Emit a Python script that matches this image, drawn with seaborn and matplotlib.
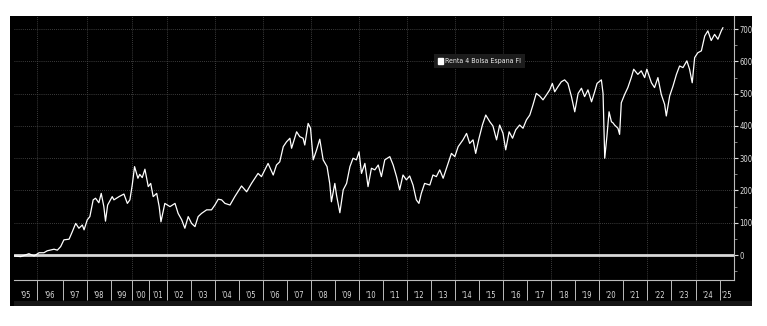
import numpy as np
import pandas as pd
import matplotlib
matplotlib.use("Agg")
import matplotlib.pyplot as plt
import seaborn as sns
from matplotlib.patches import Rectangle, Patch
from matplotlib.ticker import FixedLocator, FixedFormatter, NullFormatter, MultipleLocator

# ---------------- data ----------------
series_name = "Renta 4 Bolsa Espana FI"

dates = [
    1995.00, 1995.29, 1995.64, 1995.86, 1996.07, 1996.26, 1996.39, 1996.66, 1996.79, 1996.92,
    1997.05, 1997.26, 1997.39, 1997.53, 1997.66, 1997.80, 1997.87, 1998.00, 1998.11, 1998.25,
    1998.35, 1998.49, 1998.59, 1998.70, 1998.77, 1998.86, 1999.06, 1999.14, 1999.38, 1999.61,
    1999.77, 1999.89, 2000.00, 2000.14, 2000.34, 2000.45, 2000.60, 2000.76, 2000.96, 2001.10,
    2001.24, 2001.44, 2001.58, 2001.68, 2001.90, 2002.14, 2002.35, 2002.48, 2002.63, 2002.76,
    2002.90, 2003.04, 2003.18, 2003.31, 2003.45, 2003.66, 2003.86, 2004.00, 2004.14, 2004.28,
    2004.42, 2004.63, 2004.83, 2005.11, 2005.32, 2005.52, 2005.79, 2005.93, 2006.21, 2006.43,
    2006.57, 2006.71, 2006.86, 2007.00, 2007.14, 2007.21, 2007.42, 2007.55, 2007.69, 2007.76,
    2007.90, 2008.00, 2008.11, 2008.25, 2008.38, 2008.52, 2008.68, 2008.79, 2008.86, 2009.00,
    2009.07, 2009.21, 2009.35, 2009.49, 2009.63, 2009.76, 2009.90, 2010.01, 2010.11, 2010.25,
    2010.38, 2010.52, 2010.66, 2010.80, 2010.93, 2011.07, 2011.28, 2011.42, 2011.56, 2011.69,
    2011.83, 2011.97, 2012.11, 2012.25, 2012.39, 2012.50, 2012.60, 2012.74, 2012.96, 2013.09,
    2013.23, 2013.37, 2013.51, 2013.67, 2013.85, 2013.99, 2014.13, 2014.33, 2014.48, 2014.61,
    2014.75, 2014.86, 2015.00, 2015.14, 2015.28, 2015.45, 2015.58, 2015.73, 2015.86, 2016.00,
    2016.11, 2016.25, 2016.39, 2016.52, 2016.68, 2016.82, 2016.96, 2017.10, 2017.23, 2017.37,
    2017.51, 2017.65, 2017.79, 2017.93, 2018.04, 2018.14, 2018.28, 2018.42, 2018.56, 2018.70,
    2018.85, 2018.99, 2019.13, 2019.27, 2019.40, 2019.54, 2019.69, 2019.82, 2019.92, 2020.10,
    2020.17, 2020.24, 2020.33, 2020.42, 2020.52, 2020.58, 2020.65, 2020.79, 2020.86, 2020.93,
    2021.07, 2021.20, 2021.34, 2021.44, 2021.61, 2021.75, 2021.89, 2021.98, 2022.17, 2022.30,
    2022.44, 2022.58, 2022.72, 2022.79, 2022.93, 2023.07, 2023.21, 2023.34, 2023.48, 2023.64,
    2023.75, 2023.86, 2023.96, 2024.09, 2024.24, 2024.38, 2024.51, 2024.65, 2024.79, 2024.93,
    2025.07, 2025.14,
]
values = [
    -3, -5, 4, -3, 7, 7, 13, 18, 15, 26,
    47, 49, 72, 98, 83, 93, 78, 109, 119, 171,
    176, 162, 191, 150, 105, 155, 181, 171, 181, 189,
    160, 171, 217, 274, 238, 250, 240, 266, 212, 222,
    181, 191, 150, 103, 160, 150, 160, 129, 109, 83,
    119, 98, 88, 119, 129, 140, 140, 155, 173, 171,
    160, 155, 181, 214, 196, 222, 253, 243, 284, 248,
    279, 289, 336, 351, 362, 331, 382, 367, 362, 341,
    408, 393, 295, 326, 359, 295, 274, 222, 165, 222,
    186, 131, 202, 222, 274, 300, 295, 320, 253, 284,
    212, 269, 264, 279, 243, 295, 305, 279, 243, 202,
    248, 233, 245, 217, 171, 160, 191, 222, 217, 248,
    243, 264, 238, 274, 315, 305, 336, 357, 377, 346,
    357, 315, 362, 403, 434, 413, 400, 357, 403, 377,
    326, 382, 362, 388, 403, 393, 419, 434, 465, 501,
    493, 481, 496, 512, 532, 506, 522, 537, 543, 532,
    491, 444, 501, 517, 491, 512, 475, 506, 532, 543,
    501, 300, 367, 444, 413, 410, 403, 393, 374, 472,
    498, 519, 550, 576, 560, 571, 550, 576, 534, 519,
    550, 498, 467, 431, 493, 524, 560, 586, 581, 602,
    576, 534, 612, 627, 633, 679, 695, 665, 684, 669,
    695, 705,
]

year_ticks = list(range(1995, 2026))
year_labels = ["'" + str(y)[-2:] for y in year_ticks]
y_ticks = [0, 100, 200, 300, 400, 500, 600, 700]

# ---------------- Bloomberg-like time axis (uneven year widths) ----------------
year_widths = [23.3, 25.4, 24.6, 23.7, 21.3, 16.7, 17.7, 24, 24.3, 24, 24.3, 23.4, 24, 24.3, 24,
               24.3, 24, 23.7, 24.3, 24, 24, 24.4, 24, 23.6, 24, 24, 24.4, 24, 24.3, 24, 24]
edge_years = np.arange(1995, 1995 + len(year_widths) + 1, dtype=float)
edge_pos = np.concatenate([[0.0], np.cumsum(year_widths)])


def fwd(x):
    return np.interp(x, edge_years, edge_pos, left=-1e3, right=1e4)


def inv(p):
    return np.interp(p, edge_pos, edge_years)


df = pd.DataFrame({"date": dates, "value": values})

sns.set_theme(style="dark")
plt.rcParams["font.family"] = ["DejaVu Sans"]

W, H = 767, 326
fig = plt.figure(figsize=(W / 100, H / 100), dpi=100, facecolor="white")
# black panel behind the axes
fig.patches.append(Rectangle((10 / W, 1 - 306 / H), 742 / W, 290 / H, transform=fig.transFigure,
                             facecolor="black", edgecolor="none", zorder=-3))
fig.patches.append(Rectangle((14 / W, 1 - 306 / H), 738 / W, 5 / H, transform=fig.transFigure,
                             facecolor="#161616", edgecolor="none", zorder=-2))

ax = fig.add_axes([14 / W, 1 - 280 / H, 720 / W, 264 / H])
ax.set_facecolor("black")
ax.set_xscale("function", functions=(fwd, inv))
ax.set_xlim(1995, 2025.6)
ax.set_ylim(-77.5, 741)

# grid
for yv in y_ticks[1:]:
    ax.axhline(yv, color="#505050", lw=0.6, ls=(0, (1, 1.5)), zorder=1)
for yr in range(1996, 2025, 2):
    ax.axvline(yr, color="#505050", lw=0.6, ls=(0, (1, 1.5)), zorder=1)

ax.axhline(0, color="#d8d8d8", lw=2.0, zorder=2)

sns.lineplot(data=df, x="date", y="value", ax=ax, color="white", lw=0.9,
             estimator=None, sort=False, legend=False, zorder=3)

# y axis on right
ax.yaxis.tick_right()
ax.yaxis.set_label_position("right")
ax.set_yticks(y_ticks)
ax.yaxis.set_minor_locator(MultipleLocator(50))
ax.tick_params(axis="y", which="major", length=3, width=0.8, color="#dddddd",
               labelcolor="#dddddd", labelsize=5.5, pad=1, right=True, left=False)
ax.tick_params(axis="y", which="minor", length=2, width=0.6, color="#999999", right=True, left=False)
for lab in ax.get_yticklabels():
    lab.set_fontstretch("condensed")

# x axis: separators at year edges, labels at mid-year
ax.xaxis.set_major_locator(FixedLocator(list(range(1996, 2026))))
ax.xaxis.set_major_formatter(NullFormatter())
mids = [y + 0.5 for y in year_ticks[:-1]] + [2025.3]
ax.xaxis.set_minor_locator(FixedLocator(mids))
ax.xaxis.set_minor_formatter(FixedFormatter(year_labels))
ax.tick_params(axis="x", which="major", direction="out", length=14.4, width=0.7, color="#bbbbbb",
               bottom=True)
ax.tick_params(axis="x", which="minor", length=0, labelsize=5.5, labelcolor="#dddddd", pad=8,
               bottom=True)
for lab in ax.xaxis.get_minorticklabels():
    lab.set_fontstretch("condensed")

ax.set_xlabel("")
ax.set_ylabel("")
for s in ["left", "top"]:
    ax.spines[s].set_visible(False)
for s in ["right", "bottom"]:
    ax.spines[s].set_visible(True)
    ax.spines[s].set_color("#bbbbbb")
    ax.spines[s].set_linewidth(0.8)

leg = ax.legend(handles=[Patch(facecolor="white", edgecolor="white", label=series_name)],
                loc="center", bbox_to_anchor=((479.5 - 14) / 720, (280 - 61) / 264),
                fontsize=5.0, frameon=True, handlelength=0.7, handleheight=0.9,
                handletextpad=0.4, borderpad=0.55, fancybox=False)
leg.get_frame().set_facecolor("#1c1c1c")
leg.get_frame().set_edgecolor("none")
leg.get_frame().set_alpha(1)
for t in leg.get_texts():
    t.set_color("#eeeeee")
    t.set_fontstretch("condensed")

fig.savefig("out.png", dpi=100, facecolor="white")
